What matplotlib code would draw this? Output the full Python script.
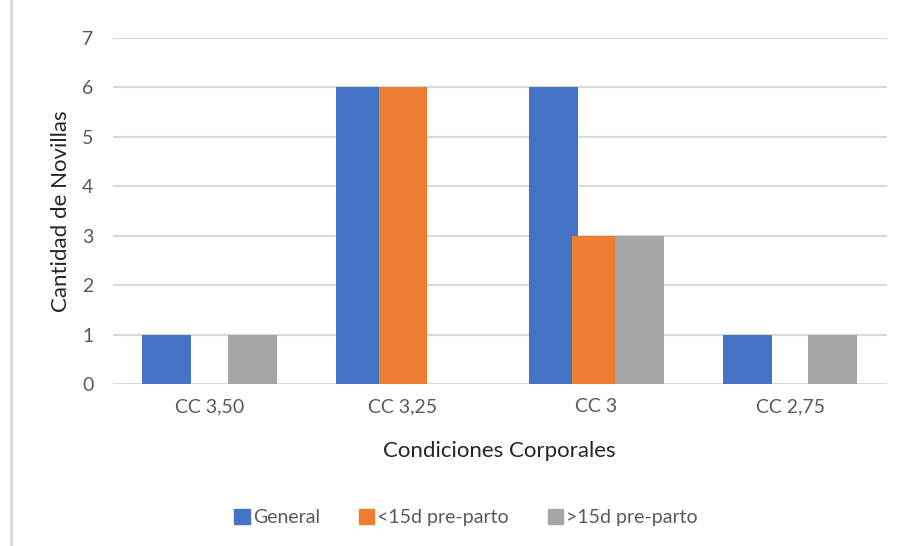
import numpy as np
import matplotlib
matplotlib.use("Agg")
import matplotlib.pyplot as plt
from matplotlib.lines import Line2D

# data
categories = ["CC 3,50", "CC 3,25", "CC 3", "CC 2,75"]
series_names = ["General", "<15d pre-parto", ">15d pre-parto"]
general = [1, 6, 6, 1]
menos_15d = [0, 6, 3, 0]
mas_15d = [1, 0, 3, 1]
colors = ["#4472C4", "#ED7D31", "#A5A5A5"]

plt.rcParams["font.family"] = ["Lato", "DejaVu Sans"]

fig = plt.figure(figsize=(9, 5.46), dpi=100)
ax = fig.add_axes([0.1253, 0.2967, 0.86, 0.6337])

x = np.arange(len(categories))
bar_w = 0.253
step = 0.222
for i, (vals, col) in enumerate(zip([general, menos_15d, mas_15d], colors)):
    ax.bar(x + (i - 1) * step, vals, width=bar_w, color=col, zorder=3 + i,
           linewidth=0)

ax.set_xlim(-0.5, len(categories) - 0.5)
ax.set_ylim(0, 7)
ax.set_yticks(range(8))
ax.set_xticks(x)
ax.set_xticklabels(categories)
ax.yaxis.grid(True, color="#D9D9D9", linewidth=1.5, zorder=0)
ax.set_axisbelow(True)
for s in ax.spines.values():
    s.set_visible(False)
ax.tick_params(axis="both", length=0, labelsize=14, labelcolor="#595959")
ax.tick_params(axis="x", pad=10)
ax.tick_params(axis="y", pad=14)
ax.set_ylabel("Cantidad de Novillas", fontsize=16, color="#262626", labelpad=8)
ax.set_xlabel("Condiciones Corporales", fontsize=16, color="#262626", labelpad=19)

handles = [plt.Rectangle((0, 0), 1, 1, color=c) for c in colors]
fig.legend(handles, series_names, loc="center", bbox_to_anchor=(0.518, 0.052),
           ncol=3, frameon=False, fontsize=14, handlelength=0.8,
           handleheight=0.8, handletextpad=0.15, columnspacing=2.0,
           labelcolor="#595959")

# thin frame line on the left edge, as in the original screenshot
fig.add_artist(Line2D([0.0125, 0.0125], [0, 1], transform=fig.transFigure,
                      color="#D9D9D9", linewidth=2))

fig.savefig("out.png", dpi=100)
